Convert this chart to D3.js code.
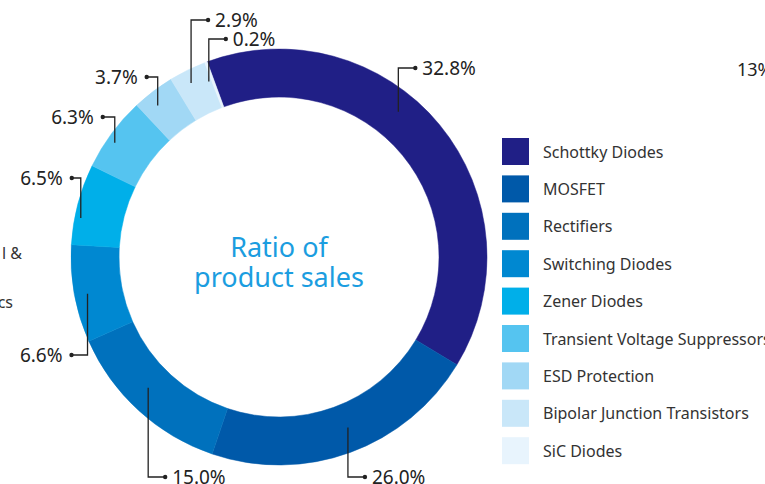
<!DOCTYPE html>
<html>
<head>
<meta charset="utf-8">
<script src="https://cdn.jsdelivr.net/npm/d3@7"></script>
<style>
  html, body { margin: 0; padding: 0; background: #fff; overflow: hidden; }
  svg { display: block; font-family: "Noto Sans", "Open Sans", sans-serif; }
</style>
</head>
<body>
<svg id="chart" width="765" height="484"></svg>
<script>
// product categories, in the order they run clockwise round the ring
var categories = ["Schottky Diodes", "MOSFET", "Rectifiers", "Switching Diodes", "Zener Diodes",
                  "Transient Voltage Suppressors", "ESD Protection", "Bipolar Junction Transistors", "SiC Diodes"];
// slice sizes as drawn in the picture (share of the ring, %)
var shares = [39.4, 21.6, 13.2, 7.6, 6.3, 5.8, 3.3, 2.9, 0.2];
// printed percentage labels
var labels = ["32.8%", "26.0%", "15.0%", "6.6%", "6.5%", "6.3%", "3.7%", "2.9%", "0.2%"];
var colors = ["#201f86", "#0059a9", "#0071bd", "#0088d1", "#00afe9", "#55c4f0", "#a1d8f5", "#c9e7f9", "#e8f4fd"];

// callout placement: anchor angle (deg, clockwise from top), anchor radius, label y, elbow length
var callouts = [
  {angle: 39.4,  r: 188, y: 68,  len: 17},
  {angle: 158,   r: 184, y: 477, len: 17},
  {angle: 225,   r: 185, y: 477, len: 17},
  {angle: 259.1, r: 195, y: 355, len: -16},
  {angle: 281.1, r: 202, y: 178, len: -9},
  {angle: 304.8, r: 200, y: 117, len: -12},
  {angle: 321.3, r: 194, y: 77,  len: -11},
  {angle: 333.2, r: 195, y: 20,  len: 17},
  {angle: 338.2, r: 189, y: 39,  len: 17}
];

var svg = d3.select("#chart");
var cx = 279, cy = 257;
var outer = 208, inner = 160;
var rad = Math.PI / 180;

var data = categories.map(function(c, i) { return {name: c, value: shares[i], label: labels[i]}; });

var pie = d3.pie()
    .sort(null)
    .value(function(d) { return d.value; })
    .startAngle(-20.2 * rad)
    .endAngle(339.8 * rad);

var arc = d3.arc().innerRadius(inner).outerRadius(outer);

var g = svg.append("g").attr("transform", "translate(" + cx + "," + cy + ")");

g.selectAll("path.slice")
  .data(pie(data))
  .enter().append("path")
    .attr("class", "slice")
    .attr("d", arc)
    .attr("fill", function(d, i) { return colors[i]; })
    .attr("stroke", function(d, i) { return colors[i]; })
    .attr("stroke-width", 0.5);

// centre title
var title = svg.append("text")
    .attr("x", cx)
    .attr("text-anchor", "middle")
    .attr("fill", "#1b9de0")
    .style("font-size", "27px");
title.append("tspan").attr("x", cx).attr("y", 257).text("Ratio of");
title.append("tspan").attr("x", cx).attr("y", 287).text("product sales");

// callouts
var call = svg.append("g");
data.forEach(function(d, i) {
  var c = callouts[i];
  var ax = cx + c.r * Math.sin(c.angle * rad);
  var ay = cy - c.r * Math.cos(c.angle * rad);
  var dx = ax + c.len;
  call.append("path")
    .attr("d", "M" + ax + "," + ay + "V" + c.y + "H" + dx)
    .attr("fill", "none")
    .attr("stroke", "#222")
    .attr("stroke-width", 1.3);
  call.append("circle")
    .attr("cx", dx).attr("cy", c.y).attr("r", 2.2)
    .attr("fill", "#222");
  call.append("text")
    .attr("x", c.len > 0 ? dx + 7 : dx - 9)
    .attr("y", c.y)
    .attr("dy", "0.36em")
    .attr("text-anchor", c.len > 0 ? "start" : "end")
    .attr("fill", "#222")
    .style("font-size", "19px")
    .text(d.label);
});

// legend
var legend = svg.selectAll(".legend")
  .data(categories)
  .enter().append("g")
    .attr("class", "legend")
    .attr("transform", function(d, i) { return "translate(502," + (138 + i * 37.4) + ")"; });

legend.append("rect")
    .attr("width", 27)
    .attr("height", 27)
    .attr("fill", function(d, i) { return colors[i]; });

legend.append("text")
    .attr("x", 41)
    .attr("y", 14)
    .attr("dy", "0.35em")
    .attr("fill", "#333")
    .style("font-size", "16px")
    .text(function(d) { return d; });

// cut-off text at the picture edges
svg.append("text").attr("x", 22).attr("y", 253).attr("dy", "0.35em")
  .attr("text-anchor", "end").attr("fill", "#333").style("font-size", "16px").text("l &");
svg.append("text").attr("x", 13).attr("y", 302).attr("dy", "0.35em")
  .attr("text-anchor", "end").attr("fill", "#333").style("font-size", "16px").text("ics");
svg.append("text").attr("x", 737).attr("y", 70).attr("dy", "0.36em")
  .attr("fill", "#222").style("font-size", "18px").text("13%");
</script>
</body>
</html>
